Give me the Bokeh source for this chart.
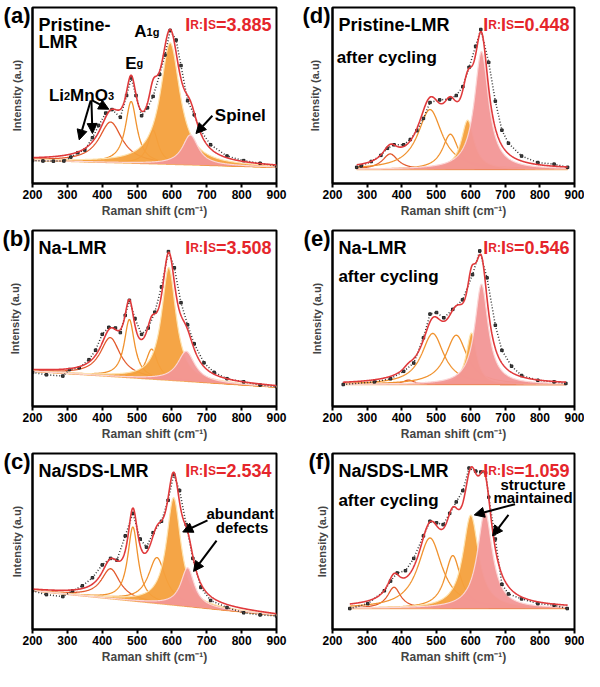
import numpy as np
from bokeh.plotting import figure
from bokeh.models import Range1d, Label, Arrow, NormalHead, FixedTicker
from bokeh.layouts import gridplot
from bokeh.embed import file_html
from bokeh.resources import INLINE

FONT = "Liberation Sans"
x_ticks = [200, 300, 400, 500, 600, 700, 800, 900]

# ---------------- data ----------------
# peak order: Li2MnO3-type, Eg, shoulder, A1g (orange fill), spinel (pink fill)
a_domain = [200, 900]
a_base = [0.132, 0.092]
a_center = [424, 483, 546, 595, 653]
a_height = [0.23, 0.35, 0.19, 0.69, 0.17]
a_fwhm = [80, 40, 36, 68, 55]
a_obs_x = [200, 230, 260, 290, 310, 330, 350, 372, 390, 410, 428, 452, 470, 483, 497, 513,
           530, 546, 565, 580, 595, 612, 626, 645, 664, 683, 711, 758, 806, 853, 900]
a_obs_y = [0.13, 0.128, 0.127, 0.128, 0.15, 0.175, 0.19, 0.26, 0.33, 0.40, 0.42, 0.376, 0.50,
           0.60, 0.50, 0.385, 0.43, 0.495, 0.62, 0.73, 0.87, 0.815, 0.67, 0.47, 0.39, 0.30,
           0.22, 0.156, 0.13, 0.115, 0.10]

b_domain = [200, 900]
b_base = [0.2, 0.11]
b_center = [423, 478, 542, 591, 641]
b_height = [0.22, 0.33, 0.17, 0.64, 0.17]
b_fwhm = [70, 36, 40, 50, 60]
b_obs_x = [200, 240, 287, 306, 334, 362, 381, 400, 419, 438, 452, 466, 478, 494, 513, 532,
           551, 570, 590, 607, 626, 645, 664, 692, 721, 758, 806, 853, 900]
b_obs_y = [0.194, 0.18, 0.173, 0.21, 0.22, 0.266, 0.32, 0.41, 0.45, 0.446, 0.42, 0.518, 0.603,
           0.5, 0.41, 0.446, 0.536, 0.68, 0.88, 0.788, 0.59, 0.464, 0.356, 0.248, 0.194, 0.158,
           0.14, 0.122, 0.113]

c_domain = [200, 900]
c_base = [0.22, 0.08]
c_center = [424, 488, 557, 605, 645]
c_height = [0.17, 0.42, 0.26, 0.61, 0.22]
c_fwhm = [65, 36, 60, 50, 47]
c_obs_x = [200, 240, 287, 315, 343, 372, 400, 424, 442, 466, 488, 509, 527, 546, 570, 589,
           605, 622, 641, 660, 683, 711, 758, 806, 853, 900]
c_obs_y = [0.22, 0.198, 0.187, 0.22, 0.248, 0.294, 0.367, 0.404, 0.394, 0.532, 0.66, 0.514,
           0.468, 0.55, 0.615, 0.734, 0.88, 0.79, 0.596, 0.404, 0.239, 0.165, 0.125, 0.095,
           0.083, 0.077]

d_domain = [270, 880]
d_base = [0.08, 0.08]
d_center = [367, 482, 541, 591, 631]
d_height = [0.088, 0.34, 0.2, 0.28, 0.67]
d_fwhm = [55, 85, 55, 45, 50]
d_obs_x = [270, 283, 312, 340, 359, 378, 406, 425, 444, 463, 482, 510, 539, 558, 577, 595,
           614, 629, 652, 671, 690, 709, 747, 794, 841, 880]
d_obs_y = [0.092, 0.1, 0.125, 0.16, 0.2, 0.22, 0.22, 0.25, 0.3, 0.37, 0.46, 0.475, 0.48, 0.5,
           0.55, 0.66, 0.78, 0.875, 0.688, 0.468, 0.303, 0.229, 0.156, 0.119, 0.11, 0.092]

e_domain = [230, 875]
e_base = [0.125, 0.125]
e_center = [420, 490, 558, 602, 631]
e_height = [0.025, 0.29, 0.28, 0.293, 0.57]
e_fwhm = [40, 78, 75, 36, 47]
e_obs_x = [231, 321, 368, 406, 435, 463, 482, 501, 522, 548, 576, 605, 626, 647, 671, 690,
           718, 747, 794, 841, 875]
e_obs_y = [0.125, 0.14, 0.158, 0.2, 0.247, 0.39, 0.525, 0.534, 0.504, 0.552, 0.606, 0.749,
           0.884, 0.731, 0.462, 0.319, 0.229, 0.176, 0.149, 0.14, 0.131]

f_domain = [250, 880]
f_base = [0.12, 0.12]
f_center = [378, 482, 548, 600, 641]
f_height = [0.12, 0.40, 0.30, 0.53, 0.55]
f_fwhm = [47, 85, 55, 55, 52]
f_obs_x = [250, 302, 350, 368, 387, 411, 435, 463, 482, 501, 520, 539, 558, 577, 595, 614,
           629, 643, 652, 671, 690, 709, 747, 794, 841, 879]
f_obs_y = [0.119, 0.147, 0.22, 0.275, 0.321, 0.334, 0.404, 0.532, 0.615, 0.606, 0.596, 0.66,
           0.725, 0.789, 0.917, 0.9, 0.895, 0.89, 0.752, 0.514, 0.257, 0.202, 0.174, 0.147,
           0.138, 0.119]

panel_letters = ["(a)", "(b)", "(c)", "(d)", "(e)", "(f)"]
ratio_texts = ["=3.885", "=3.508", "=2.534", "=0.448", "=0.546", "=1.059"]

# ---------------- styling ----------------
RED = "#e5262b"
FIT = "#e0393b"
C_LINE1 = "#e2592c"
C_LINE = "#f0922e"
C_BASE = "#f7b767"
C_FILL_O = "#f4a03c"
C_EDGE_O = "#fde3b0"
C_FILL_P = "#f29696"
C_EDGE_P = "#fbd6d6"
LETTER_Y = 0.955

W = {'A': .722, 'E': .667, 'I': .278, 'L': .611, 'M': .833, 'R': .722, 'S': .667, 'N': .722,
     'D': .722, 'P': .667, 'O': .778, 'a': .556, 'b': .611, 'c': .556, 'd': .611, 'e': .556,
     'f': .333, 'g': .611, 'h': .611, 'i': .278, 'l': .278, 'm': .889, 'n': .611, 'o': .611,
     'p': .611, 'r': .389, 's': .556, 't': .333, 'u': .611, 'y': .556, '.': .278, ':': .333,
     '=': .584, '-': .333, '/': .278, ' ': .278, '(': .333, ')': .333}


def tw(s, size):
    return sum(W.get(ch, .556) for ch in s) * size


def rich(p, x, y, pieces, color="black", align="left", x_off=0, y_off=0, baseline="alphabetic"):
    total = sum(tw(t, s) for t, s in pieces)
    cur = x_off - (total if align == "right" else total / 2 if align == "center" else 0)
    for t, s in pieces:
        p.add_layout(Label(x=x, y=y, x_offset=cur, y_offset=y_off, text=t, text_font=FONT,
                           text_font_style="bold", text_font_size=f"{s}px", text_color=color,
                           text_baseline=baseline, text_align="left"))
        cur += tw(t, s)


def make_fig(col, letter):
    fw = 244 if col == 0 else 242
    p = figure(frame_width=fw, frame_height=176, x_range=Range1d(200, 900),
               y_range=Range1d(0, 1), output_backend="svg", toolbar_location=None,
               min_border_left=32 if col == 0 else 40, min_border_right=16 if col == 0 else 10,
               min_border_top=7, min_border_bottom=40, background_fill_color="white",
               border_fill_color="white")
    p.xgrid.visible = False
    p.ygrid.visible = False
    p.outline_line_color = "black"
    p.outline_line_width = 2
    p.outline_line_alpha = 1
    p.xaxis.ticker = FixedTicker(ticks=x_ticks)
    p.xaxis.axis_label = "Raman shift (cm⁻¹)"
    p.xaxis.axis_line_width = 2
    p.xaxis.major_tick_line_width = 2
    p.xaxis.major_tick_out = 4
    p.xaxis.major_tick_in = 0
    p.xaxis.minor_tick_line_color = None
    p.xaxis.major_label_text_font = FONT
    p.xaxis.major_label_text_font_style = "bold"
    p.xaxis.major_label_text_font_size = "12px"
    p.xaxis.major_label_text_color = "black"
    p.xaxis.major_label_standoff = 2
    p.xaxis.axis_label_text_font = FONT
    p.xaxis.axis_label_text_font_style = "bold"
    p.xaxis.axis_label_text_font_size = "12px"
    p.xaxis.axis_label_standoff = 2
    # y axis: no ticks; the panel letter is carried as the single tick label at the top
    p.yaxis.ticker = FixedTicker(ticks=[LETTER_Y])
    p.yaxis.major_label_overrides = {LETTER_Y: letter}
    p.yaxis.major_label_text_font = FONT
    p.yaxis.major_label_text_font_style = "bold"
    p.yaxis.major_label_text_font_size = "22px"
    p.yaxis.major_label_text_color = "black"
    p.yaxis.major_label_standoff = 2
    p.yaxis.major_tick_out = 0
    p.yaxis.major_tick_in = 0
    p.yaxis.major_tick_line_color = None
    p.yaxis.minor_tick_line_color = None
    p.yaxis.axis_label = "Intensity (a.u)"
    p.yaxis.axis_line_width = 2
    p.yaxis.axis_label_text_font = FONT
    p.yaxis.axis_label_text_font_style = "bold"
    p.yaxis.axis_label_text_font_size = "11px"
    p.yaxis.axis_label_standoff = -22
    return p


def lor(x, c, h, w):
    return h / (1.0 + ((x - c) / (w / 2.0)) ** 2)


def draw_spectrum(p, domain, base, centers, heights, fwhms, obs_x, obs_y):
    x = np.arange(domain[0], domain[1] + 0.5, 1.0)
    b = base[0] + (base[1] - base[0]) * (x - domain[0]) / (domain[1] - domain[0])
    comps = [lor(x, c, h, w) for c, h, w in zip(centers, heights, fwhms)]
    p.line(x, b, line_color=C_BASE, line_width=1.5)
    for i in range(3):
        p.line(x, b + comps[i], line_color=C_LINE1 if i == 0 else C_LINE, line_width=1.3)
    p.varea(x=x, y1=b, y2=b + comps[3], fill_color=C_FILL_O, fill_alpha=0.95)
    p.line(x, b + comps[3], line_color=C_EDGE_O, line_width=1.2)
    p.varea(x=x, y1=b, y2=b + comps[4], fill_color=C_FILL_P, fill_alpha=0.95)
    p.line(x, b + comps[4], line_color=C_EDGE_P, line_width=1.2)
    p.line(obs_x, obs_y, line_color="#333333", line_width=1.5, line_dash="1 2")
    p.scatter(obs_x, obs_y, size=2.5, marker="square", fill_color="#444444", line_color="#222222")
    p.line(x, b + sum(comps), line_color=FIT, line_width=1.6)


def arrow(p, xs, ys, xe, ye):
    p.add_layout(Arrow(end=NormalHead(size=10, fill_color="black", line_color="black"),
                       x_start=xs, y_start=ys, x_end=xe, y_end=ye,
                       line_color="black", line_width=2))


specs = [
    (a_domain, a_base, a_center, a_height, a_fwhm, a_obs_x, a_obs_y),
    (b_domain, b_base, b_center, b_height, b_fwhm, b_obs_x, b_obs_y),
    (c_domain, c_base, c_center, c_height, c_fwhm, c_obs_x, c_obs_y),
    (d_domain, d_base, d_center, d_height, d_fwhm, d_obs_x, d_obs_y),
    (e_domain, e_base, e_center, e_height, e_fwhm, e_obs_x, e_obs_y),
    (f_domain, f_base, f_center, f_height, f_fwhm, f_obs_x, f_obs_y),
]

figs = []
for k, spec in enumerate(specs):
    col = 0 if k < 3 else 1
    p = make_fig(col, panel_letters[k])
    draw_spectrum(p, *spec)
    rich(p, 900, 1, [("I", 18), ("R:", 12), ("I", 18), ("S", 12), (ratio_texts[k], 18)],
         color=RED, align="right", x_off=-5, y_off=-17)
    figs.append(p)

pa, pb, pc, pd, pe, pf = figs

# sample names
rich(pa, 200, 1, [("Pristine-", 18)], x_off=6, y_off=-17)
rich(pa, 200, 1, [("LMR", 18)], x_off=6, y_off=-34)
rich(pb, 200, 1, [("Na-LMR", 18)], x_off=6, y_off=-17)
rich(pc, 200, 1, [("Na/SDS-LMR", 18)], x_off=6, y_off=-17)
rich(pd, 200, 1, [("Pristine-LMR", 18)], x_off=6, y_off=-17)
rich(pe, 200, 1, [("Na-LMR", 18)], x_off=6, y_off=-17)
rich(pf, 200, 1, [("Na/SDS-LMR", 18)], x_off=6, y_off=-17)
rich(pd, 212, 0.716, [("after cycling", 17)])
rich(pe, 217, 0.74, [("after cycling", 17)])
rich(pf, 217, 0.734, [("after cycling", 17)])

# panel (a) annotations
rich(pa, 466, 0.683, [("E", 17), ("g", 11)])
rich(pa, 492, 0.862, [("A", 17), ("1g", 11)])
rich(pa, 247, 0.499, [("Li", 17), ("2", 11), ("MnO", 17), ("3", 11)])
rich(pa, 723, 0.389, [("Spinel", 17)])
arrow(pa, 367, 0.472, 334, 0.248)
arrow(pa, 369, 0.472, 372, 0.284)
arrow(pa, 371, 0.472, 419, 0.422)
arrow(pa, 716, 0.385, 669, 0.284)

# panel (c) annotations
rich(pc, 796, 0.66, [("abundant", 15)], align="center")
rich(pc, 801, 0.582, [("defects", 15)], align="center")
arrow(pc, 702, 0.62, 631, 0.554)
arrow(pc, 728, 0.505, 662, 0.33)

# panel (f) annotations
rich(pf, 780, 0.826, [("structure", 15)], align="center")
rich(pf, 780, 0.752, [("maintained", 15)], align="center")
arrow(pf, 728, 0.712, 610, 0.651)
arrow(pf, 709, 0.651, 663, 0.532)

grid = gridplot([[pa, pd], [pb, pe], [pc, pf]], toolbar_location=None)

open("out.html", "w").write(file_html(grid, INLINE))
